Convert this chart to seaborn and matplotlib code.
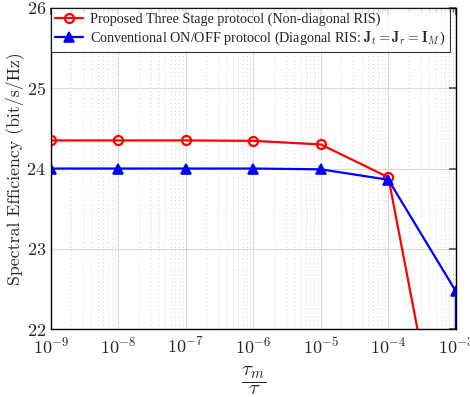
import numpy as np
import pandas as pd
import matplotlib
matplotlib.use("Agg")
import matplotlib.pyplot as plt
import seaborn as sns
from matplotlib.ticker import LogLocator, NullFormatter

# values
tau_ratio = [1e-9, 1e-8, 1e-7, 1e-6, 1e-5, 1e-4, 1e-3]
se_three_stage = [24.35, 24.35, 24.35, 24.345, 24.30, 23.89, 19.5]
tau_ratio_onoff = [1e-9, 1e-8, 1e-7, 1e-6, 1e-5, 1e-4, 1e-3, 1e-3]
se_onoff = [24.0, 24.0, 24.0, 24.0, 23.99, 23.86, 22.47, 21.0]

label_three = "Proposed Three Stage protocol (Non-diagonal RIS)"
label_onoff = (r"Conventional ON/OFF protocol (Diagonal RIS: "
               r"$\mathbf{J}_t=\mathbf{J}_r=\mathbf{I}_M\,$)")

sns.set_theme(style="white")
plt.rcParams["font.family"] = ["serif"]
plt.rcParams["font.serif"] = ["cmr10", "DejaVu Serif"]
plt.rcParams["mathtext.fontset"] = "cm"
plt.rcParams["axes.formatter.use_mathtext"] = True

df_three = pd.DataFrame({"x": tau_ratio, "y": se_three_stage})
df_onoff = pd.DataFrame({"x": tau_ratio_onoff, "y": se_onoff})

fig, ax = plt.subplots(figsize=(4.70, 3.97), dpi=100)
sns.lineplot(data=df_three, x="x", y="y", ax=ax, color="red", lw=1.6,
             marker="o", markersize=6.5, markerfacecolor="none",
             markeredgecolor="red", markeredgewidth=1.6,
             estimator=None, sort=False, label=label_three)
sns.lineplot(data=df_onoff, x="x", y="y", ax=ax, color="blue", lw=1.6,
             marker="^", markersize=6.5, markerfacecolor="blue",
             markeredgecolor="blue", markeredgewidth=1.2,
             estimator=None, sort=False, label=label_onoff)

ax.set_xscale("log")
ax.set_xlim(1e-9, 1e-3)
ax.set_ylim(22, 26)
ax.set_yticks([22, 23, 24, 25, 26])
ax.xaxis.set_major_locator(LogLocator(base=10, numticks=10))
ax.xaxis.set_minor_locator(LogLocator(base=10, subs=np.arange(2, 10), numticks=100))
ax.xaxis.set_minor_formatter(NullFormatter())

ax.grid(which="major", color="#d9d9d9", lw=0.8, ls="-")
ax.grid(which="minor", axis="x", color="#d0d0d0", lw=0.7, ls=(0, (1, 3)))
ax.tick_params(which="both", direction="in", top=True, right=True,
               labelsize=13, color="#555555")
ax.tick_params(which="major", length=5)
ax.tick_params(which="minor", length=3)
ax.tick_params(axis="x", pad=5)
for sp in ax.spines.values():
    sp.set_color("black")
    sp.set_linewidth(1.0)

ax.set_xlabel(r"$\dfrac{\tau_m}{\tau}$", fontsize=15, labelpad=6)
ax.set_ylabel("Spectral Efficiency (bit/s/Hz)", fontsize=12.8, labelpad=2)

leg = ax.legend(loc="upper left", bbox_to_anchor=(0.0, 1.0),
                prop={"family": "Liberation Serif", "size": 10.2},
                frameon=True, fancybox=False, edgecolor="black",
                handlelength=2.0, handletextpad=0.45, borderpad=0.3,
                labelspacing=0.3, borderaxespad=0.0)
leg.get_frame().set_linewidth(0.8)

fig.subplots_adjust(left=0.108, right=0.970, top=0.980, bottom=0.171)
fig.savefig("out.png", dpi=100)
